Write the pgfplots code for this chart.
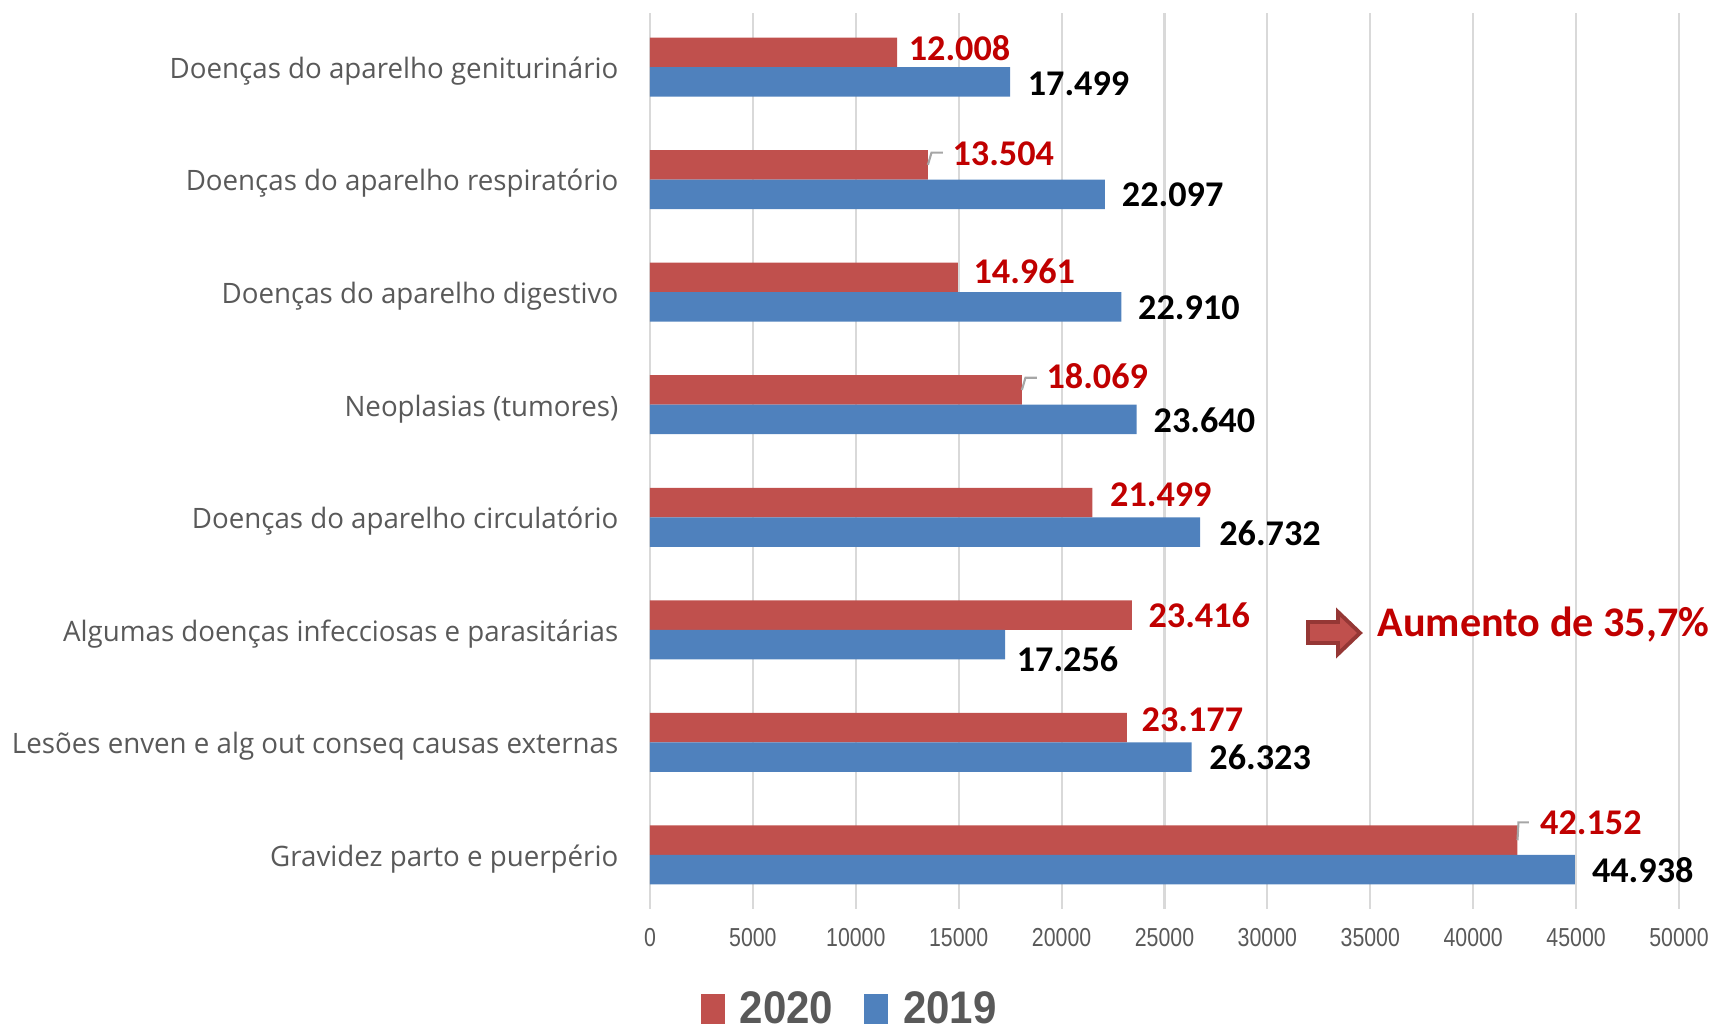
\documentclass[border=0pt]{standalone}
\usepackage{fontspec}
\setmainfont{Carlito}
\newfontfamily\catfont[FakeStretch=0.985]{Open Sans}
\newfontfamily\tickfont[FakeStretch=0.82]{Liberation Sans}
\newfontfamily\legfont[FakeStretch=0.92]{Liberation Sans}
\usepackage{pgfplots}
\usepackage{pgfplotstable}
\pgfplotsset{compat=1.18}
\definecolor{barred}{HTML}{C0504D}
\definecolor{barblue}{HTML}{4F81BD}
\definecolor{labred}{HTML}{C00000}
\definecolor{txtgray}{HTML}{595959}
\definecolor{gridgray}{HTML}{D9D9D9}
\definecolor{arrowedge}{HTML}{953735}

% pos: 0 = bottom category; dx/dy = label offsets in mm
\pgfplotstableread{
pos val   dx   dy
7   12008 1.1  0.44
6   13504 2.4  1.1
5   14961 1.5  0.66
4   18069 2.4  1.4
3   21499 1.7  0.77
2   23416 1.6  0.0
1   23177 1.4  0.77
0   42152 2.2  1.75
}\tabtwenty
\pgfplotstableread{
pos val   dx   dy
7   17499 1.7  -0.15
6   22097 1.65 -0.05
5   22910 1.6  -0.1
4   23640 1.65 -0.1
3   26732 1.85 -0.1
2   17256 1.1  -1.5
1   26323 1.7  0.0
0   44938 1.65 0.0
}\tabnineteen

\pgfplotsset{
  value labels/.style={
    point meta=x,
    visualization depends on={\thisrow{dx} \as \dx},
    visualization depends on={\thisrow{dy} \as \dy},
    nodes near coords={\pgfmathprintnumber[fixed,precision=0,1000 sep={.},assume math mode=true]{\pgfplotspointmeta}},
    every node near coord/.append style={anchor=west, inner sep=0pt,
      xshift=\dx mm, yshift=\dy mm,
      font=\bfseries\fontsize{10.3}{12}\selectfont, text=#1},
  },
}

\begin{document}
\begin{tikzpicture}
\useasboundingbox (0mm,0mm) rectangle (171.4mm,103mm);
\begin{axis}[
    at={(65mm,12.1mm)}, anchor=south west,
    scale only axis, width=102.9mm, height=89.6mm,
    xmin=0, xmax=50000, ymin=-0.48, ymax=7.48,
    xtick={0,5000,...,50000},
    ytick={0,...,7},
    yticklabels={Gravidez parto e puerpério,
      Lesões enven e alg out conseq causas externas,
      Algumas doenças infecciosas e parasitárias,
      Doenças do aparelho circulatório,
      Neoplasias (tumores),
      Doenças do aparelho digestivo,
      Doenças do aparelho respiratório,
      Doenças do aparelho geniturinário},
    xmajorgrids, grid style={draw=gridgray, line width=0.6pt},
    axis line style={draw=none},
    major tick length=0pt,
    scaled x ticks=false,
    /pgf/number format/1000 sep={},
    /pgf/number format/assume math mode=true,
    xticklabel style={font=\tickfont\fontsize{7.4}{9}\selectfont, text=txtgray, inner sep=0pt, yshift=-1.9mm},
    yticklabel style={font=\catfont\fontsize{8}{10}\selectfont, text=txtgray, inner sep=0pt, xshift=-3.1mm, yshift=-0.4mm},
    xbar, bar width=0.262,
    clip=false,
    legend columns=2,
    legend style={draw=none, fill=none, at={(0.0486,-0.134)}, anchor=south west,
      font=\legfont\bfseries\fontsize{13}{15}\selectfont, text=txtgray,
      inner sep=0pt, nodes={inner sep=0pt},
      /tikz/every odd column/.append style={column sep=1.5mm},
      /tikz/every even column/.append style={column sep=3.1mm}},
    legend image code/.code={\fill (0mm,-1.45mm) rectangle (2.4mm,1.55mm);},
]
\addplot[xbar, bar shift=0.131, fill=barred, draw=none, value labels=labred]
  table[x=val, y=pos] {\tabtwenty};
\addplot[xbar, bar shift=-0.131, fill=barblue, draw=none, value labels=black]
  table[x=val, y=pos] {\tabnineteen};
\legend{2020, 2019}
% leader lines of the moved labels
\draw[gray!70, line width=0.6pt] (axis cs:13504,6.131) -- (axis cs:13680,6.24) -- (axis cs:14230,6.24);
\draw[gray!70, line width=0.6pt] (axis cs:18069,4.131) -- (axis cs:18245,4.24) -- (axis cs:18800,4.24);
\draw[gray!70, line width=0.6pt] (axis cs:42152,0.131) -- (axis cs:42200,0.29) -- (axis cs:42700,0.29);
\end{axis}
\filldraw[fill=barred, draw=arrowedge, line width=1.1pt, line join=miter]
  (130.8mm,38.7mm) -- (133.8mm,38.7mm) -- (133.8mm,37.6mm) -- (136.0mm,39.7mm) -- (133.8mm,41.8mm)
  -- (133.8mm,40.8mm) -- (130.8mm,40.8mm) -- cycle;
\node[anchor=base west, inner sep=0pt, text=labred, font=\bfseries\fontsize{12}{14}\selectfont]
  at (137.7mm,39.3mm) {Aumento de 35,7\%};
\end{tikzpicture}
\end{document}
